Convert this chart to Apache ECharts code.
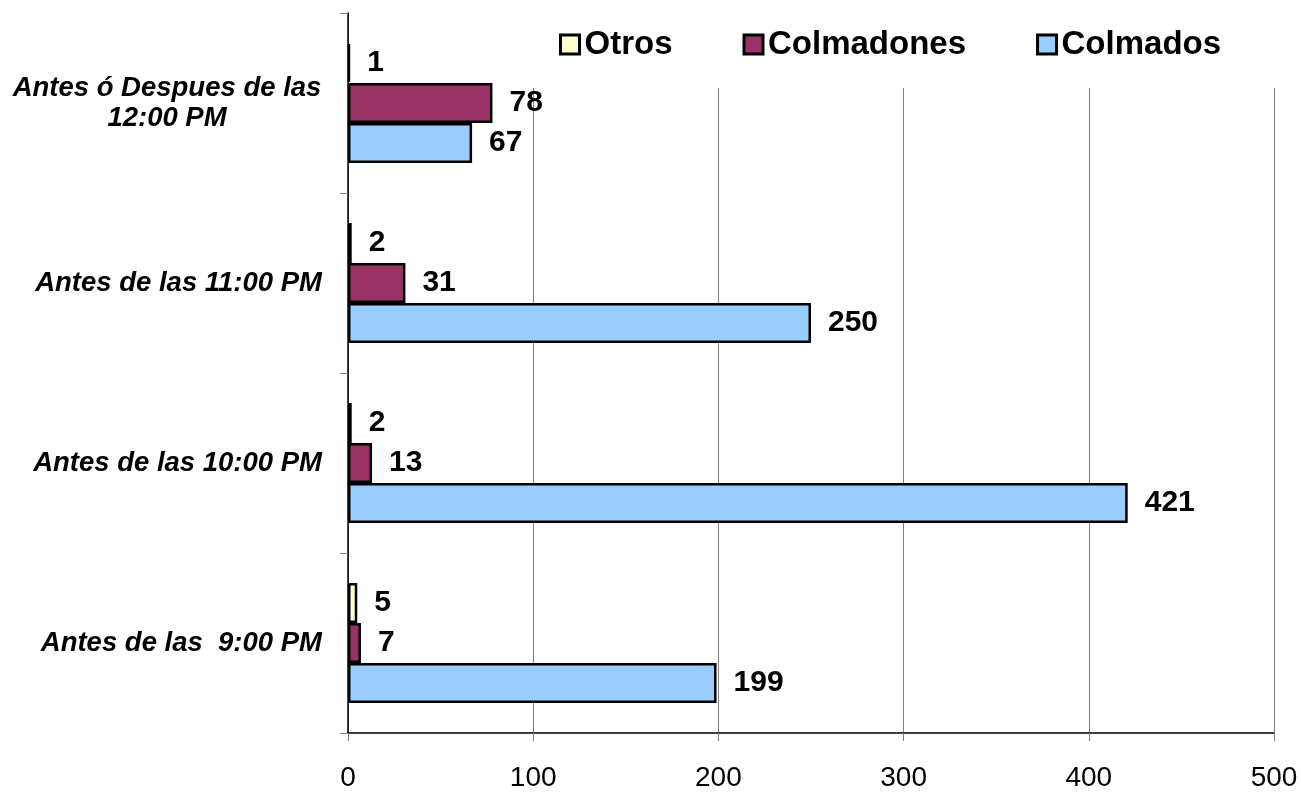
<!DOCTYPE html>
<html>
<head>
<meta charset="utf-8">
<script src="https://cdn.jsdelivr.net/npm/echarts@6/dist/echarts.min.js"></script>
<style>
html,body{margin:0;padding:0;background:#fff;}
#chart{width:1301px;height:793px;}
</style>
</head>
<body>
<div id="chart"></div>
<script>
const categories = ['Antes de las  9:00 PM', 'Antes de las 10:00 PM', 'Antes de las 11:00 PM', 'Antes ó Despues de las\n12:00 PM'];
const otros = [5, 2, 2, 1];
const colmadones = [7, 13, 31, 78];
const colmados = [199, 421, 250, 67];
const xTicks = [0, 100, 200, 300, 400, 500];

const FONT = '"Liberation Sans", Arial, sans-serif';
const chart = echarts.init(document.getElementById('chart'), null, {renderer: 'canvas'});

function barSeries(name, data, color) {
  return {
    name: name,
    type: 'bar',
    data: data,
    barWidth: 40,
    barGap: '0%',
    itemStyle: {color: color, borderColor: '#000', borderWidth: 2.5},
    label: {
      show: true, position: 'right', distance: 17,
      color: '#000', fontFamily: FONT, fontWeight: 'bold', fontSize: 30
    },
    emphasis: {disabled: true}
  };
}

chart.setOption({
  animation: false,
  backgroundColor: '#fff',
  grid: {left: 348, right: 27, top: 13, bottom: 60, containLabel: false},
  legend: {
    left: 528, top: 13,
    padding: [15, 55, 27, 31],
    backgroundColor: '#fff',
    itemGap: 70,
    itemWidth: 19, itemHeight: 19,
    icon: 'rect',
    itemStyle: {borderColor: '#000', borderWidth: 3},
    textStyle: {fontFamily: FONT, fontWeight: 'bold', fontSize: 33, color: '#000'},
    data: ['Otros', 'Colmadones', 'Colmados']
  },
  xAxis: {
    type: 'value', min: xTicks[0], max: xTicks[xTicks.length - 1], interval: 100,
    axisLine: {show: true, lineStyle: {color: '#000', width: 1.5}},
    axisTick: {show: true, length: 8, lineStyle: {color: '#808080'}},
    axisLabel: {margin: 31, fontFamily: FONT, fontSize: 28, color: '#000'},
    splitLine: {show: true, lineStyle: {color: '#808080', width: 1}}
  },
  yAxis: {
    type: 'category', data: categories,
    axisLine: {show: true, lineStyle: {color: '#000', width: 1.5}},
    axisTick: {show: true, length: 8, lineStyle: {color: '#808080'}},
    axisLabel: {
      margin: 26, fontFamily: FONT, fontSize: 27.5, fontWeight: 'bold', fontStyle: 'italic', color: '#000',
      lineHeight: 30,
      formatter: function (v) {
        if (v.indexOf('\n') >= 0) {
          return v.split('\n').map(function (s) { return '{c|' + s + '}'; }).join('\n');
        }
        return v;
      },
      rich: {
        c: {width: 310, align: 'center', fontFamily: FONT, fontSize: 27.5, fontWeight: 'bold', fontStyle: 'italic', color: '#000', lineHeight: 30}
      }
    },
    splitLine: {show: false}
  },
  series: [
    barSeries('Otros', otros, '#FFFFCC'),
    barSeries('Colmadones', colmadones, '#993366'),
    barSeries('Colmados', colmados, '#99CCFF')
  ]
});
</script>
</body>
</html>
